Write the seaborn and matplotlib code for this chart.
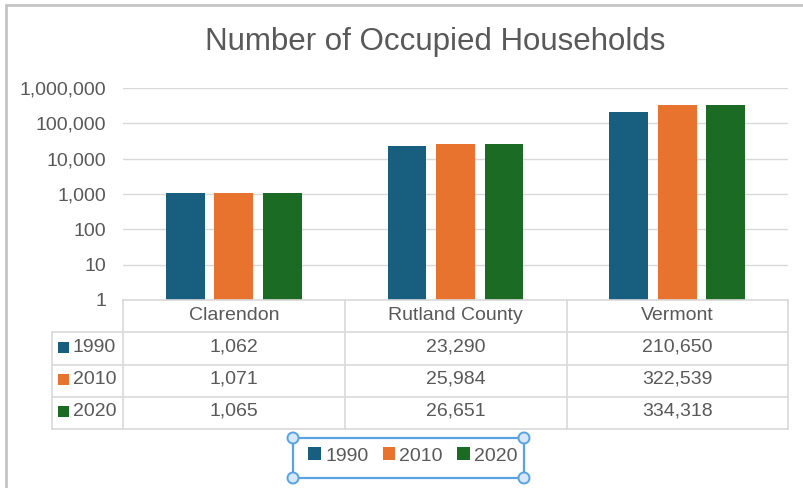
import matplotlib
matplotlib.use("Agg")
import matplotlib.pyplot as plt
import matplotlib.transforms as mtransforms
from matplotlib.patches import Rectangle, Ellipse
from matplotlib.lines import Line2D
from matplotlib.ticker import FuncFormatter, FixedLocator, NullLocator
import seaborn as sns
import pandas as pd

# ---------------- data ----------------
categories = ["Clarendon", "Rutland County", "Vermont"]
years = ["1990", "2010", "2020"]
hh_1990 = [1062, 23290, 210650]
hh_2010 = [1071, 25984, 322539]
hh_2020 = [1065, 26651, 334318]
ytick_vals = [1, 10, 100, 1000, 10000, 100000, 1000000]
title = "Number of Occupied Households"

colors = ["#175e7f", "#e8732f", "#1b6b25"]
text_color = "#595959"
grid_color = "#d9d9d9"

series = [hh_1990, hh_2010, hh_2020]
df = pd.DataFrame({
    "region": [c for s in series for c in categories],
    "year": [y for y, s in zip(years, series) for _ in s],
    "households": [v for s in series for v in s],
})

sns.set_theme(style="white")
plt.rcParams['font.family'] = ['Liberation Sans', 'DejaVu Sans']

W, H = 804, 488
fig = plt.figure(figsize=(W / 100, H / 100), dpi=100)
fig.patch.set_facecolor("white")


def fx(px):
    return px / W


def fy(py):
    return 1 - py / H


FS = 14

ax = fig.add_axes([fx(123), fy(300), fx(788) - fx(123), fy(88) - fy(300)])
ax.set_yscale("log")
sns.barplot(data=df, x="region", y="households", hue="year", order=categories,
            hue_order=years, palette=colors, width=0.655, gap=0.2,
            saturation=1, linewidth=0, ax=ax)
ax.set_ylim(1, 1e6)
ax.set_xlim(-0.5, len(categories) - 0.5)
ax.yaxis.set_major_locator(FixedLocator(ytick_vals))
ax.yaxis.set_minor_locator(NullLocator())
ax.yaxis.set_major_formatter(FuncFormatter(lambda v, p: f"{int(round(v)):,}"))
ax.tick_params(axis="y", length=0, pad=12, labelsize=FS, labelcolor=text_color)
ax.set_xticks([])
ax.set_xlabel("")
ax.set_ylabel("")
ax.yaxis.grid(True, color=grid_color, linewidth=1)
ax.set_axisbelow(True)
for s in ax.spines.values():
    s.set_visible(False)

# title
fig.text(fx(435.5), fy(42), title, ha="center", va="center",
         fontsize=22.5, color=text_color)

# ---------------- data table ----------------
def hline(y, x0, x1):
    fig.add_artist(Line2D([fx(x0), fx(x1)], [fy(y), fy(y)], color=grid_color,
                          linewidth=1.2, transform=fig.transFigure))


def vline(x, y0, y1):
    fig.add_artist(Line2D([fx(x), fx(x)], [fy(y0), fy(y1)], color=grid_color,
                          linewidth=1.2, transform=fig.transFigure))


row_edges = [332, 365, 397, 429]
hline(300, 123, 788)
for y in row_edges:
    hline(y, 52, 788)
vline(52, 332, 429)
for x in [123, 345, 567, 788]:
    vline(x, 300, 429)

tr = mtransforms.blended_transform_factory(ax.transData, fig.transFigure)
for i, c in enumerate(categories):
    fig.text(i, fy(315), c, transform=tr, ha="center", va="center",
             fontsize=FS, color=text_color)

row_centers = [347, 379, 411]
for r, (yr, vals, col) in enumerate(zip(years, series, colors)):
    yc = row_centers[r]
    fig.add_artist(Rectangle((fx(58), fy(yc + 5.5)), fx(11), 11 / H,
                             facecolor=col, edgecolor="none",
                             transform=fig.transFigure))
    fig.text(fx(73), fy(yc), yr, ha="left", va="center", fontsize=FS,
             color=text_color)
    for i, v in enumerate(vals):
        fig.text(i, fy(yc), f"{v:,}", transform=tr, ha="center", va="center",
                 fontsize=FS, color=text_color)

# ---------------- legend ----------------
sns.move_legend(ax, "center", bbox_to_anchor=(fx(413), fy(456)),
                bbox_transform=fig.transFigure, ncol=3, frameon=False,
                title=None, fontsize=FS, handlelength=0.65, handleheight=0.65,
                handletextpad=0.2, columnspacing=0.75, labelcolor=text_color,
                borderaxespad=0, borderpad=0)

sel = "#5aa2e0"
fig.add_artist(Rectangle((fx(293), fy(478)), fx(524) - fx(293), (478 - 438) / H,
                         facecolor="none", edgecolor=sel, linewidth=1.6,
                         transform=fig.transFigure))
for (cx, cy) in [(293, 438), (524, 438), (293, 478), (524, 478)]:
    fig.add_artist(Ellipse((fx(cx), fy(cy)), 11 / W, 11 / H,
                           facecolor="#d5e7f8", edgecolor=sel, linewidth=1.4,
                           transform=fig.transFigure))

# outer frame (top and left)
fig.add_artist(Line2D([fx(6), 1], [fy(4.5), fy(4.5)], color="#c4c4c4",
                      linewidth=2, transform=fig.transFigure))
fig.add_artist(Line2D([fx(6), fx(6)], [fy(4.5), 0], color="#c4c4c4",
                      linewidth=2, transform=fig.transFigure))

fig.savefig("out.png", dpi=100)
